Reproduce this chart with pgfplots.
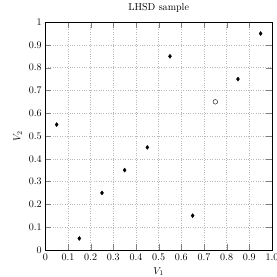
\documentclass[border=0pt]{standalone}
\usepackage{pgfplots}
\pgfplotsset{compat=1.18}
\begin{document}
\begin{tikzpicture}
\begin{axis}[
  name=ax,
  scale only axis,
  width=225pt, height=226pt,
  xmin=0, xmax=1, ymin=0, ymax=1,
  xtick={0,0.1,0.2,0.3,0.4,0.5,0.6,0.7,0.8,0.9,1},
  xticklabels={0,0.1,0.2,0.3,0.4,0.5,0.6,0.7,0.8,0.9,1.0},
  ytick={0,0.1,0.2,0.3,0.4,0.5,0.6,0.7,0.8,0.9,1},
  yticklabels={0,0.1,0.2,0.3,0.4,0.5,0.6,0.7,0.8,0.9,1},
  grid=major,
  grid style={dotted, gray!55},
  major tick length=6pt,
  title={LHSD sample},
  xlabel={$V_1$}, ylabel={$V_2$},
]
\addplot[only marks, mark=diamond*, mark size=2pt, black] coordinates {
(0.05,0.55) (0.15,0.05) (0.25,0.25) (0.35,0.35) (0.45,0.45)
(0.55,0.85) (0.65,0.15) (0.85,0.75) (0.95,0.95)};
\addplot[only marks, mark=o, mark size=2.3pt, black] coordinates {(0.75,0.65)};
\end{axis}
\pgfresetboundingbox
\path[use as bounding box] ([xshift=-45pt,yshift=-27pt]ax.south west) rectangle ([xshift=5pt,yshift=22pt]ax.north east);
\end{tikzpicture}
\end{document}
